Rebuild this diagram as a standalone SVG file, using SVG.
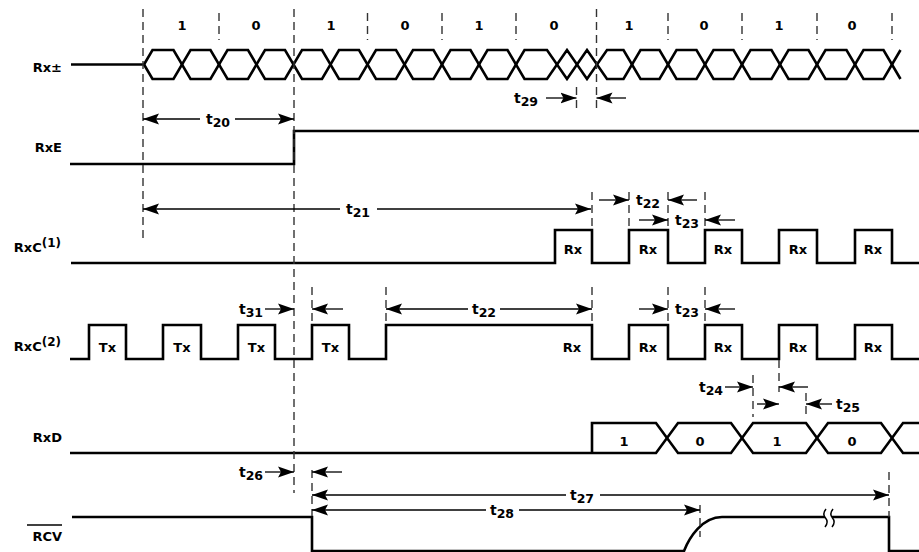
<svg xmlns="http://www.w3.org/2000/svg" width="919" height="552" viewBox="0 0 919 552">
<style>
text{font-family:"DejaVu Sans","Liberation Sans",Arial,sans-serif;font-weight:bold;fill:#000}
.lbl{font-size:13px;text-anchor:end}
.v{font-size:13px;text-anchor:middle}
.t{font-size:14px;text-anchor:middle}
.w{fill:none;stroke:#000;stroke-width:2.6;stroke-linejoin:miter}
.d{fill:none;stroke:#333;stroke-width:1.4;stroke-dasharray:8,5}
.a{fill:none;stroke:#000;stroke-width:1.3;marker-end:url(#ah)}
</style>
<defs>
<marker id="ah" markerUnits="userSpaceOnUse" markerWidth="17" markerHeight="12" refX="16" refY="6" orient="auto"><path d="M0,0.5 L16,6 L0,11.5 L3,6 z" fill="#000"/></marker>
</defs>
<rect width="919" height="552" fill="#fff"/>

<g id="sig-rxpm">
<text class="lbl" x="62" y="72">Rx±</text>
<path class="w" d="M71,64.5 H144"/>
<path class="w" d="M144,64.5 L152.5,50 H173.5 L190.5,79 H210.5 L227.5,50 H248 L265,79 H285 L302,50 H322 L339,79 H359 L376,50 H396 L413,79 H433.5 L450.5,50 H470.5 L487.5,79 H507.5 L524.5,50 H547 L567,79 L587,50 L607,79 H623.5 L640.5,50 H659.5 L676.5,79 H696.5 L713.5,50 H733.5 L750.5,79 H771.5 L788.5,50 H808.5 L825.5,79 H846.5 L863.5,50 H883.5 L900.5,79"/>
<path class="w" d="M144,64.5 L152.5,79 H173.5 L190.5,50 H210.5 L227.5,79 H248 L265,50 H285 L302,79 H322 L339,50 H359 L376,79 H396 L413,50 H433.5 L450.5,79 H470.5 L487.5,50 H507.5 L524.5,79 H547 L567,50 L587,79 L607,50 H623.5 L640.5,79 H659.5 L676.5,50 H696.5 L713.5,79 H733.5 L750.5,50 H771.5 L788.5,79 H808.5 L825.5,50 H846.5 L863.5,79 H883.5 L900.5,50"/>
<text class="v" x="182" y="30">1</text>
<text class="v" x="256" y="30">0</text>
<text class="v" x="331" y="30">1</text>
<text class="v" x="405" y="30">0</text>
<text class="v" x="479" y="30">1</text>
<text class="v" x="554" y="30">0</text>
<text class="v" x="629" y="30">1</text>
<text class="v" x="704" y="30">0</text>
<text class="v" x="779" y="30">1</text>
<text class="v" x="852" y="30">0</text>
</g>

<g id="sig-rxe">
<text class="lbl" x="62" y="152">RxE</text>
<path class="w" d="M70,164 H294 V131 H919"/>
</g>

<g id="sig-rxc1">
<text class="lbl" x="61" y="252">RxC<tspan font-size="12" dy="-5">(1)</tspan></text>
<path class="w" d="M71,263 H555 V230 H592 V263 H629 V230 H668 V263 H705 V230 H742 V263 H779 V230 H817 V263 H855 V230 H892 V263 H919"/>
<text class="v" x="573" y="254">Rx</text>
<text class="v" x="648" y="254">Rx</text>
<text class="v" x="723" y="254">Rx</text>
<text class="v" x="798" y="254">Rx</text>
<text class="v" x="873" y="254">Rx</text>
</g>

<g id="sig-rxc2">
<text class="lbl" x="61" y="351">RxC<tspan font-size="12" dy="-5">(2)</tspan></text>
<path class="w" d="M70,359 H89 V325 H126 V359 H163 V325 H201 V359 H238 V325 H275 V359 H312 V325 H349 V359 H386 V325 H592 V359 H629 V325 H668 V359 H705 V325 H742 V359 H779 V325 H817 V359 H855 V325 H892 V359 H919"/>
<text class="v" x="107.5" y="352">Tx</text>
<text class="v" x="182" y="352">Tx</text>
<text class="v" x="256.5" y="352">Tx</text>
<text class="v" x="330.5" y="352">Tx</text>
<text class="v" x="572" y="352">Rx</text>
<text class="v" x="648" y="352">Rx</text>
<text class="v" x="723" y="352">Rx</text>
<text class="v" x="798" y="352">Rx</text>
<text class="v" x="873" y="352">Rx</text>
</g>

<g id="sig-rxd">
<text class="lbl" x="62" y="442">RxD</text>
<path class="w" d="M592,453 V423 H656 L678,453 H731 L753,423 H806 L828,453 H881 L903,423 H919"/>
<path class="w" d="M70,453 H656 L678,423 H731 L753,453 H806 L828,423 H881 L903,453 H919"/>
<text class="v" x="624" y="446">1</text>
<text class="v" x="700" y="446">0</text>
<text class="v" x="777" y="446">1</text>
<text class="v" x="852" y="446">0</text>
</g>

<g id="sig-rcv">
<text class="lbl" x="62" y="541">RCV</text>
<path d="M27,525 H62" stroke="#000" stroke-width="1.4"/>
<path class="w" d="M72,517 H312 V551 H684 C689,538 702,517 722,517 H889 V551 H919"/>
<rect x="825" y="512" width="7" height="10" fill="#fff"/>
<path d="M826,509 Q822,514 825.5,518 Q829,522 825,527 M833,509 Q829,514 832.5,518 Q836,522 832,527" fill="none" stroke="#000" stroke-width="1.5"/>
</g>

<g id="guides">
<path class="d" d="M143,9 V240 M294,9 V493 M596.5,9 V108"/>
<path class="d" d="M219,13 V40 M367.5,13 V40 M442,13 V40 M516,13 V40 M668,13 V40 M742,13 V40 M817,13 V40 M892,13 V40"/>
<path class="d" d="M576.5,87 V108"/>
<path class="d" d="M592,192 V230 M629,192 V230 M668,192 V230 M705,192 V230"/>
<path class="d" d="M312,287 V325 M386,287 V325 M592,287 V325 M668,287 V325 M705,287 V325"/>
<path class="d" d="M753,375 V417 M779,360 V392 M806,393 V417"/>
<path class="d" d="M312,470 V516 M889,472 V517 M700,505 V537"/>
</g>

<g id="connectors">
<path class="a" d="M200,119 H143"/><path class="a" d="M235,119 H294"/>
<path class="a" d="M340,209 H143"/><path class="a" d="M377,209 H591"/>
<path class="a" d="M546,98 H576.5"/><path class="a" d="M626,98 H596.5"/>
<path class="a" d="M599,200 H629"/><path class="a" d="M697,200 H668"/>
<path class="a" d="M639,220 H668"/><path class="a" d="M735,220 H705"/>
<path class="a" d="M265,309 H294"/><path class="a" d="M343,309 H312"/>
<path class="a" d="M468,309 H386"/><path class="a" d="M500,309 H592"/>
<path class="a" d="M639,309 H668"/><path class="a" d="M735,309 H705"/>
<path class="a" d="M725,387 H753"/><path class="a" d="M808,387 H779"/>
<path class="a" d="M757,404 H779"/><path class="a" d="M832,404 H806"/>
<path class="a" d="M265,472 H294"/><path class="a" d="M342,472 H312"/>
<path class="a" d="M566,495 H312"/><path class="a" d="M600,495 H889"/>
<path class="a" d="M486,510 H312"/><path class="a" d="M519,510 H700"/>
</g>

<g id="labels">
<text class="t" x="218" y="124">t<tspan font-size="12.5" dy="3">20</tspan></text>
<text class="t" x="358" y="214">t<tspan font-size="12.5" dy="3">21</tspan></text>
<text class="t" x="526" y="103">t<tspan font-size="12.5" dy="3">29</tspan></text>
<text class="t" x="648" y="205">t<tspan font-size="12.5" dy="3">22</tspan></text>
<text class="t" x="687" y="225">t<tspan font-size="12.5" dy="3">23</tspan></text>
<text class="t" x="251" y="314">t<tspan font-size="12.5" dy="3">31</tspan></text>
<text class="t" x="484" y="314">t<tspan font-size="12.5" dy="3">22</tspan></text>
<text class="t" x="687" y="314">t<tspan font-size="12.5" dy="3">23</tspan></text>
<text class="t" x="711" y="392">t<tspan font-size="12.5" dy="3">24</tspan></text>
<text class="t" x="848" y="409">t<tspan font-size="12.5" dy="3">25</tspan></text>
<text class="t" x="251" y="477">t<tspan font-size="12.5" dy="3">26</tspan></text>
<text class="t" x="582" y="500">t<tspan font-size="12.5" dy="3">27</tspan></text>
<text class="t" x="502" y="515">t<tspan font-size="12.5" dy="3">28</tspan></text>
</g>
</svg>
